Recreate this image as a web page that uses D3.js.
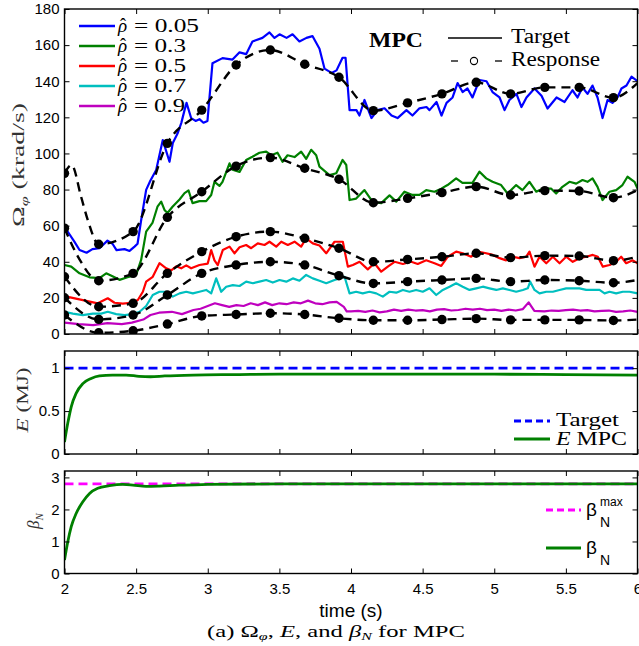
<!DOCTYPE html>
<html><head><meta charset="utf-8">
<script src="https://cdn.jsdelivr.net/npm/d3@7"></script>
<style>body{margin:0;background:#fff} svg{display:block}</style>
</head><body><svg id="c" width="639" height="646"></svg>
<script>
// ---------------- data ----------------
const timeTicks = [2, 2.5, 3, 3.5, 4, 4.5, 5, 5.5, 6];
const omegaTicks = [0, 20, 40, 60, 80, 100, 120, 140, 160, 180];
const eTicks = [0, 0.5, 1];
const betaTicks = [0, 1, 2, 3];
const rhoLabels = ["0.05", "0.3", "0.5", "0.7", "0.9"];

// solid lines: targets [time, krad/s]
const tgt005 = [[2.0,59.4],[2.07,51],[2.105,46.5],[2.154,45],[2.195,47],[2.244,47.5],[2.30,51.7],[2.335,50],[2.363,46.5],[2.419,47],[2.454,46],[2.489,48.4],[2.51,50],[2.535,63],[2.57,79.8],[2.6,85],[2.64,90.8],[2.686,107.4],[2.733,95.4],[2.756,105.8],[2.789,111],[2.815,116.8],[2.838,124],[2.852,128],[2.884,119.6],[2.915,118],[2.942,119],[2.97,117],[2.998,118],[3.033,150],[3.103,152.8],[3.173,152],[3.222,156],[3.268,155],[3.312,162],[3.382,164],[3.431,167],[3.466,164],[3.501,166],[3.55,164],[3.592,166],[3.64,162],[3.689,164],[3.731,165],[3.78,158],[3.815,147],[3.864,144.6],[3.899,146],[3.941,153],[3.962,153],[3.99,124],[4.038,124],[4.059,121],[4.094,129.6],[4.143,119.6],[4.185,124],[4.234,125],[4.283,121],[4.325,119.6],[4.387,124],[4.429,121],[4.478,125],[4.527,125.7],[4.548,124],[4.597,128.5],[4.632,121],[4.667,128],[4.709,131],[4.744,139],[4.779,134],[4.813,136],[4.848,131],[4.897,140.7],[4.946,140],[4.988,134],[5.037,131],[5.072,124],[5.106,129.6],[5.155,133],[5.19,125.7],[5.225,131],[5.281,136],[5.33,132],[5.372,124.9],[5.435,131],[5.491,128.5],[5.546,135],[5.581,131],[5.616,136.5],[5.651,133],[5.686,137.6],[5.721,131],[5.756,119.6],[5.791,129.6],[5.825,128],[5.86,131],[5.888,136],[5.923,137.6],[5.958,142.5],[6.0,140]];
const tgt03 = [[2.0,38.2],[2.047,37.3],[2.105,33.6],[2.175,31.4],[2.244,31],[2.291,33.6],[2.335,32],[2.384,30],[2.44,31.4],[2.5,32.7],[2.535,41],[2.57,56.7],[2.614,61.5],[2.649,70.5],[2.675,73.3],[2.698,68.7],[2.719,67],[2.754,70.5],[2.803,74.5],[2.838,78],[2.866,79.5],[2.894,72.5],[2.942,73.6],[2.989,73.6],[3.024,77],[3.047,84.3],[3.082,82],[3.103,84.3],[3.152,94.5],[3.173,91],[3.222,89.8],[3.268,96.4],[3.312,98.2],[3.361,100.4],[3.408,101],[3.443,99],[3.487,100.4],[3.522,95.4],[3.557,99],[3.606,98],[3.652,101],[3.687,97],[3.722,102],[3.757,99],[3.78,92.7],[3.85,88],[3.897,89],[3.941,96.4],[3.967,93.6],[3.99,74.2],[4.036,75],[4.094,79.7],[4.15,73.3],[4.211,72.5],[4.269,76.8],[4.316,73.3],[4.373,78.8],[4.429,77],[4.478,77],[4.525,79.7],[4.583,78.8],[4.63,80.5],[4.674,82.5],[4.734,86.2],[4.778,83.7],[4.848,83.7],[4.897,89.9],[4.944,86.2],[4.988,84.3],[5.048,82.5],[5.093,77.8],[5.153,82.5],[5.197,79.7],[5.246,84.3],[5.293,78.8],[5.337,80.5],[5.398,80.5],[5.432,77.8],[5.476,81.5],[5.525,84.3],[5.572,83.3],[5.616,85.3],[5.651,84.3],[5.686,86.2],[5.721,81.5],[5.756,74.2],[5.804,78.8],[5.851,79.7],[5.895,82.5],[5.93,87.1],[5.979,84.3],[6.0,80.5]];
const tgt05 = [[2.0,21],[2.128,18.8],[2.232,17],[2.302,19.8],[2.349,17.3],[2.407,16.8],[2.466,17.3],[2.512,18.8],[2.547,23.4],[2.57,29],[2.616,31.7],[2.663,39.2],[2.71,36.4],[2.745,35.3],[2.78,37.5],[2.815,36.4],[2.85,38],[2.884,36.4],[2.942,38.2],[3.0,39],[3.024,46.5],[3.047,40.8],[3.07,38.2],[3.105,46.5],[3.152,48.4],[3.187,44.7],[3.222,48],[3.268,49.3],[3.303,47.5],[3.349,50.2],[3.396,49.3],[3.431,51.1],[3.478,48.4],[3.513,51.1],[3.559,49.3],[3.606,51.1],[3.652,48.4],[3.687,53],[3.733,50.2],[3.78,49],[3.827,44.7],[3.885,51.1],[3.943,51.1],[3.978,37.3],[4.013,38.2],[4.06,40],[4.117,35.8],[4.164,39.2],[4.211,34.5],[4.257,37.3],[4.304,40],[4.362,38.8],[4.42,40],[4.466,38.8],[4.525,40.8],[4.583,39.2],[4.63,37.7],[4.676,42.8],[4.734,45.6],[4.78,44.7],[4.839,42.8],[4.885,45.6],[4.944,44.7],[4.99,43.8],[5.037,42],[5.083,40.8],[5.13,42.8],[5.176,42],[5.223,42.8],[5.246,45.6],[5.281,37.3],[5.316,42.8],[5.363,39.2],[5.409,42.8],[5.456,39.2],[5.502,42.8],[5.548,40],[5.595,42],[5.642,42.8],[5.688,43.8],[5.723,42.8],[5.758,37.3],[5.805,38.2],[5.851,40],[5.886,42.8],[5.921,39.2],[5.967,40.8],[6.0,39.2]];
const tgt07 = [[2.0,12.3],[2.058,11.3],[2.128,10.5],[2.198,11.3],[2.256,11.3],[2.302,12.3],[2.361,11],[2.419,10.5],[2.477,11],[2.524,12.3],[2.57,15.5],[2.616,21.6],[2.663,23.4],[2.71,23.4],[2.756,20.7],[2.803,22.5],[2.85,23.4],[2.896,22.5],[2.942,23.4],[2.989,24.4],[3.024,22.5],[3.059,30.8],[3.094,23.4],[3.129,26.2],[3.175,27.1],[3.222,26.6],[3.268,29],[3.315,28.1],[3.361,29],[3.408,29.9],[3.454,28.5],[3.501,29.9],[3.548,29],[3.594,30.8],[3.64,29.5],[3.687,32.7],[3.733,30.8],[3.78,29.5],[3.827,28.1],[3.885,29.9],[3.92,30.8],[3.955,31.7],[3.99,22.5],[4.036,23.4],[4.082,22.5],[4.129,23.4],[4.176,22.5],[4.222,20.7],[4.269,23.4],[4.316,22.9],[4.362,24.4],[4.408,23.4],[4.455,24.4],[4.501,23.4],[4.548,25.3],[4.595,21.6],[4.641,24.4],[4.688,26.2],[4.734,28.1],[4.78,26.2],[4.827,24.4],[4.874,25.3],[4.92,26.2],[4.967,25.3],[5.014,24.4],[5.06,25.3],[5.106,24.4],[5.153,23.4],[5.2,24.4],[5.234,25.3],[5.251,29],[5.281,24.4],[5.316,22.5],[5.363,23.4],[5.409,23.4],[5.456,24.4],[5.502,25.3],[5.548,25.3],[5.595,25.3],[5.642,24.4],[5.688,24.4],[5.735,24.4],[5.77,22.5],[5.805,23.4],[5.851,22.5],[5.897,23.4],[5.944,23.4],[6.0,22.5]];
const tgt09 = [[2.0,6.3],[2.1,5.5],[2.2,4.9],[2.3,6.0],[2.4,5.5],[2.47,6.3],[2.55,8],[2.6,10.5],[2.66,11.8],[2.75,12.3],[2.82,11],[2.9,13.3],[2.95,14],[3.0,15.5],[3.05,17],[3.1,16],[3.15,15],[3.2,16],[3.25,15.5],[3.3,17],[3.35,16],[3.4,17.5],[3.45,16],[3.5,17],[3.55,16.5],[3.6,17.5],[3.65,17],[3.7,18.5],[3.75,17],[3.8,16.5],[3.85,17.5],[3.9,17.8],[3.95,15],[3.97,12.5],[4.0,12.5],[4.05,12.8],[4.1,12.3],[4.15,13],[4.2,12],[4.25,12.5],[4.3,13.5],[4.35,12.8],[4.4,13.5],[4.45,13],[4.5,13.2],[4.55,12.5],[4.6,13.5],[4.65,13.8],[4.7,13],[4.75,13.3],[4.8,14],[4.85,13.5],[4.9,14],[4.95,13.2],[5.0,13.5],[5.05,12.8],[5.1,13.5],[5.15,13],[5.2,13.8],[5.24,17.5],[5.28,12.8],[5.35,12.5],[5.4,13],[5.45,12.8],[5.5,13.2],[5.55,13.5],[5.6,13],[5.65,13.2],[5.7,12.5],[5.75,12.8],[5.8,13],[5.85,12.3],[5.9,12.5],[5.95,13],[6.0,12.3]];

// dashed lines: MPC responses [time, krad/s]; circles at markerT
const markerT = [2.0, 2.239, 2.479, 2.718, 2.958, 3.198, 3.437, 3.677, 3.916, 4.156, 4.395, 4.635, 4.874, 5.114, 5.353, 5.593, 5.832];
const resp005 = [[2.0,89],[2.05,93.6],[2.116,76],[2.163,63],[2.239,49.7],[2.479,56.7],[2.718,105.6],[2.958,124],[3.198,149],[3.437,157.3],[3.677,149.4],[3.916,142.2],[4.156,123.7],[4.395,128],[4.635,133],[4.874,139.4],[5.114,133],[5.353,136.6],[5.593,136.6],[5.832,130.9],[6.0,139]];
const resp03 = [[2.0,58.6],[2.1,42],[2.239,29.5],[2.479,33.6],[2.718,64.6],[2.958,78.8],[3.198,93],[3.437,97.7],[3.677,91.8],[3.916,85.7],[4.156,72.7],[4.395,75.1],[4.635,78.3],[4.874,81.6],[5.114,77],[5.353,79.4],[5.593,79.2],[5.832,75.5],[6.0,79.7]];
const resp05 = [[2.0,31.7],[2.239,15.1],[2.479,17],[2.718,33.6],[2.958,45.6],[3.198,53.9],[3.437,56.7],[3.677,53],[3.916,47.5],[4.156,40],[4.395,41.3],[4.635,42.8],[4.874,44.7],[5.114,42.3],[5.353,43.4],[5.593,43.2],[5.832,40.6],[6.0,42.8]];
const resp07 = [[2.0,20.1],[2.239,8.1],[2.479,10.5],[2.718,21.6],[2.958,33.6],[3.198,38.2],[3.437,40],[3.677,38.2],[3.916,32.3],[4.156,28],[4.395,29],[4.635,29.9],[4.874,30.8],[5.114,29],[5.353,29.9],[5.593,29.5],[5.832,28.4],[6.0,29.9]];
const resp09 = [[2.0,10.5],[2.239,0.7],[2.479,1.8],[2.718,5.5],[2.958,10],[3.198,10.8],[3.437,11.5],[3.677,10.8],[3.916,8.7],[4.156,7.6],[4.395,7.6],[4.635,8],[4.874,8.5],[5.114,7.8],[5.353,7.8],[5.593,7.8],[5.832,7.5],[6.0,8]];

// energy (MJ)
const eTarget = 1.0;
const eMPC = [[2.0,0.14],[2.023,0.36],[2.047,0.55],[2.082,0.71],[2.128,0.82],[2.186,0.88],[2.244,0.91],[2.335,0.92],[2.43,0.92],[2.52,0.905],[2.6,0.9],[2.7,0.91],[2.9,0.92],[3.2,0.925],[3.5,0.93],[4.0,0.93],[4.5,0.93],[5.0,0.93],[5.5,0.925],[6.0,0.92]];
// beta_N
const betaMax = 2.8;
const betaN = [[2.0,0.42],[2.023,0.99],[2.047,1.46],[2.082,1.88],[2.128,2.24],[2.175,2.5],[2.232,2.66],[2.314,2.74],[2.407,2.78],[2.477,2.76],[2.57,2.72],[2.663,2.73],[2.8,2.76],[3.0,2.78],[3.5,2.8],[4.0,2.8],[5.0,2.8],[6.0,2.8]];

// ---------------- drawing ----------------
const colors = ["#0000ff", "#008000", "#ff0000", "#00bfbf", "#bf00bf"];
const targets = [tgt005, tgt03, tgt05, tgt07, tgt09];
const responses = [resp005, resp03, resp05, resp07, resp09];

const svg = d3.select("#c");
const SANS = "'Liberation Sans', Arial, Helvetica, sans-serif";
const SERIF = "'Liberation Serif', 'Times New Roman', serif";

const x = d3.scaleLinear().domain([2, 6]).range([64.5, 637.5]);
const yO = d3.scaleLinear().domain([0, 180]).range([334, 9]);
const yE = d3.scaleLinear().domain([0, 1.2]).range([454, 351]);
const yB = d3.scaleLinear().domain([0, 3.2]).range([573.5, 471]);

const defs = svg.append("defs");
function clip(id, y) {
  defs.append("clipPath").attr("id", id).append("rect")
    .attr("x", x.range()[0]).attr("y", y.range()[1])
    .attr("width", x.range()[1] - x.range()[0]).attr("height", y.range()[0] - y.range()[1]);
}
clip("cO", yO); clip("cE", yE); clip("cB", yB);

function axes(y, yTicks, showX) {
  const g = svg.append("g");
  const [x0, x1] = x.range(); const [yb, yt] = y.range();
  g.append("g").attr("transform", `translate(${x0},0)`)
    .call(d3.axisLeft(y).tickValues(yTicks).tickSizeInner(-5).tickSizeOuter(0).tickPadding(5).tickFormat(d => String(d)));
  g.append("g").attr("transform", `translate(${x1},0)`)
    .call(d3.axisRight(y).tickValues(yTicks).tickSizeInner(-5).tickSizeOuter(0).tickFormat(""));
  g.append("g").attr("transform", `translate(0,${yt})`)
    .call(d3.axisTop(x).tickValues(timeTicks).tickSizeInner(-5).tickSizeOuter(0).tickFormat(""));
  g.append("g").attr("transform", `translate(0,${yb})`)
    .call(d3.axisBottom(x).tickValues(timeTicks).tickSizeInner(-5).tickSizeOuter(0).tickPadding(10)
      .tickFormat(showX ? (d => String(d)) : ""));
  g.selectAll("g").attr("font-size", 15).attr("font-family", SANS);
  g.selectAll(".domain").remove();
  g.selectAll(".tick line").attr("stroke", "#000").attr("stroke-width", 1);
  g.selectAll("text").attr("fill", "#000");
  g.append("rect").attr("x", x0).attr("y", yt).attr("width", x1 - x0).attr("height", yb - yt)
    .attr("fill", "none").attr("stroke", "#000").attr("stroke-width", 1.4);
}

// ---- Omega panel ----
const gO = svg.append("g").attr("clip-path", "url(#cO)");
const lineO = d3.line().x(d => x(d[0])).y(d => yO(d[1]));
const smoothO = d3.line().x(d => x(d[0])).y(d => yO(d[1])).curve(d3.curveMonotoneX);
targets.forEach((s, i) => {
  gO.append("path").attr("d", lineO(s)).attr("fill", "none")
    .attr("stroke", colors[i]).attr("stroke-width", 2.2).attr("stroke-linejoin", "round");
});
responses.forEach(s => {
  gO.append("path").attr("d", smoothO(s)).attr("fill", "none")
    .attr("stroke", "#000").attr("stroke-width", 2.4).attr("stroke-dasharray", "9,6");
  gO.selectAll(null).data(s.filter(d => markerT.includes(d[0]))).join("circle")
    .attr("cx", d => x(d[0])).attr("cy", d => yO(d[1])).attr("r", 4.7).attr("fill", "#000");
});
axes(yO, omegaTicks, false);

// ---- E panel ----
const gE = svg.append("g").attr("clip-path", "url(#cE)");
gE.append("path").attr("d", d3.line().x(d => x(d)).y(() => yE(eTarget))(x.domain()))
  .attr("stroke", "#0000ff").attr("stroke-width", 2.8).attr("stroke-dasharray", "9,5").attr("fill", "none");
gE.append("path").attr("d", d3.line().x(d => x(d[0])).y(d => yE(d[1])).curve(d3.curveMonotoneX)(eMPC))
  .attr("stroke", "#008000").attr("stroke-width", 2.8).attr("fill", "none");
axes(yE, eTicks, false);

// ---- beta panel ----
const gB = svg.append("g").attr("clip-path", "url(#cB)");
gB.append("path").attr("d", d3.line().x(d => x(d)).y(() => yB(betaMax))(x.domain()))
  .attr("stroke", "#ff00ff").attr("stroke-width", 2.8).attr("stroke-dasharray", "9,5").attr("fill", "none");
gB.append("path").attr("d", d3.line().x(d => x(d[0])).y(d => yB(d[1])).curve(d3.curveMonotoneX)(betaN))
  .attr("stroke", "#008000").attr("stroke-width", 2.8).attr("fill", "none");
axes(yB, betaTicks, true);

// ---- legends ----
const legRows = [26, 46, 66, 86, 106];
const legEnd = [199, 186, 186, 186, 185];
rhoLabels.forEach((lab, i) => {
  const r = legRows[i];
  svg.append("line").attr("x1", 79).attr("x2", 115).attr("y1", r).attr("y2", r)
    .attr("stroke", colors[i]).attr("stroke-width", 2.6);
  svg.append("text").attr("x", 118).attr("y", r + 6).text("ρ")
    .style("font-family", SERIF).style("font-size", "19px").style("font-style", "italic");
  svg.append("text").attr("x", 120).attr("y", r + 5).text("ˆ")
    .style("font-family", SERIF).style("font-size", "18px");
  svg.append("text").attr("x", 134).attr("y", r + 6).text("= " + lab)
    .style("font-family", SERIF).style("font-size", "19px")
    .attr("textLength", legEnd[i] - 134).attr("lengthAdjust", "spacingAndGlyphs");
});
svg.append("text").attr("x", 369).attr("y", 47).text("MPC")
  .style("font-family", SERIF).style("font-size", "22px").style("font-weight", "bold")
  .attr("textLength", 54).attr("lengthAdjust", "spacingAndGlyphs");
svg.append("line").attr("x1", 448).attr("x2", 502).attr("y1", 38).attr("y2", 38).attr("stroke", "#000").attr("stroke-width", 1.3);
svg.append("text").attr("x", 511).attr("y", 43).text("Target")
  .style("font-family", SERIF).style("font-size", "20px").attr("textLength", 59).attr("lengthAdjust", "spacingAndGlyphs");
svg.append("line").attr("x1", 451).attr("x2", 458).attr("y1", 61).attr("y2", 61).attr("stroke", "#000").attr("stroke-width", 1.3);
svg.append("circle").attr("cx", 474).attr("cy", 61).attr("r", 3.6).attr("fill", "none").attr("stroke", "#000").attr("stroke-width", 1.1);
svg.append("line").attr("x1", 495).attr("x2", 502).attr("y1", 61).attr("y2", 61).attr("stroke", "#000").attr("stroke-width", 1.3);
svg.append("text").attr("x", 511).attr("y", 66).text("Response")
  .style("font-family", SERIF).style("font-size", "20px").attr("textLength", 89).attr("lengthAdjust", "spacingAndGlyphs");

// E legend
svg.append("line").attr("x1", 514).attr("x2", 550).attr("y1", 421).attr("y2", 421)
  .attr("stroke", "#0000ff").attr("stroke-width", 2.8).attr("stroke-dasharray", "7,4");
svg.append("text").attr("x", 556).attr("y", 426).text("Target")
  .style("font-family", SERIF).style("font-size", "18px").attr("textLength", 63).attr("lengthAdjust", "spacingAndGlyphs");
svg.append("line").attr("x1", 514).attr("x2", 550).attr("y1", 439).attr("y2", 439)
  .attr("stroke", "#008000").attr("stroke-width", 2.8);
const eTxt = svg.append("text").attr("x", 556).attr("y", 445)
  .style("font-family", SERIF).style("font-size", "18px").attr("textLength", 71).attr("lengthAdjust", "spacingAndGlyphs");
eTxt.append("tspan").style("font-style", "italic").text("E");
eTxt.append("tspan").text(" MPC");

// beta legend
svg.append("line").attr("x1", 546).attr("x2", 581).attr("y1", 510).attr("y2", 510)
  .attr("stroke", "#ff00ff").attr("stroke-width", 2.8).attr("stroke-dasharray", "7,4");
svg.append("text").attr("x", 586).attr("y", 516).text("β").style("font-family", SANS).style("font-size", "19px");
svg.append("text").attr("x", 600).attr("y", 506).text("max").style("font-family", SANS).style("font-size", "12px");
svg.append("text").attr("x", 600).attr("y", 527).text("N").style("font-family", SANS).style("font-size", "14px");
svg.append("line").attr("x1", 546).attr("x2", 581).attr("y1", 548).attr("y2", 548)
  .attr("stroke", "#008000").attr("stroke-width", 2.8);
svg.append("text").attr("x", 586).attr("y", 554).text("β").style("font-family", SANS).style("font-size", "19px");
svg.append("text").attr("x", 600).attr("y", 565).text("N").style("font-family", SANS).style("font-size", "14px");

// ---- axis titles ----
const yl1 = svg.append("text").attr("transform", "translate(24,165) rotate(-90)").attr("text-anchor", "middle")
  .style("font-family", SERIF).style("font-size", "17px").attr("fill", "#333")
  .attr("textLength", 124).attr("lengthAdjust", "spacingAndGlyphs");
yl1.append("tspan").text("Ω");
yl1.append("tspan").attr("dy", 4).style("font-size", "11px").style("font-style", "italic").text("φ");
yl1.append("tspan").attr("dy", -4).text(" (krad/s)");

const yl2 = svg.append("text").attr("transform", "translate(28,400) rotate(-90)").attr("text-anchor", "middle")
  .style("font-family", SERIF).style("font-size", "17px").attr("fill", "#333")
  .attr("textLength", 65).attr("lengthAdjust", "spacingAndGlyphs");
yl2.append("tspan").style("font-style", "italic").text("E");
yl2.append("tspan").text(" (MJ)");

const yl3 = svg.append("text").attr("transform", "translate(39,521) rotate(-90)").attr("text-anchor", "middle")
  .style("font-family", SERIF).style("font-size", "17px").attr("fill", "#333");
yl3.append("tspan").style("font-style", "italic").text("β");
yl3.append("tspan").attr("dy", 4).style("font-size", "11px").style("font-style", "italic").text("N");

svg.append("text").attr("x", 351).attr("y", 617).attr("text-anchor", "middle").text("time (s)")
  .style("font-family", SANS).style("font-size", "19px");

const cap = svg.append("text").attr("x", 336).attr("y", 637).attr("text-anchor", "middle")
  .style("font-family", SERIF).style("font-size", "17px")
  .attr("textLength", 258).attr("lengthAdjust", "spacingAndGlyphs");
cap.append("tspan").text("(a) Ω");
cap.append("tspan").attr("dy", 3).style("font-size", "11px").style("font-style", "italic").text("φ");
cap.append("tspan").attr("dy", -3).text(", ");
cap.append("tspan").style("font-style", "italic").text("E");
cap.append("tspan").text(", and ");
cap.append("tspan").style("font-style", "italic").text("β");
cap.append("tspan").attr("dy", 3).style("font-size", "11px").style("font-style", "italic").text("N");
cap.append("tspan").attr("dy", -3).text(" for MPC");
</script></body></html>
